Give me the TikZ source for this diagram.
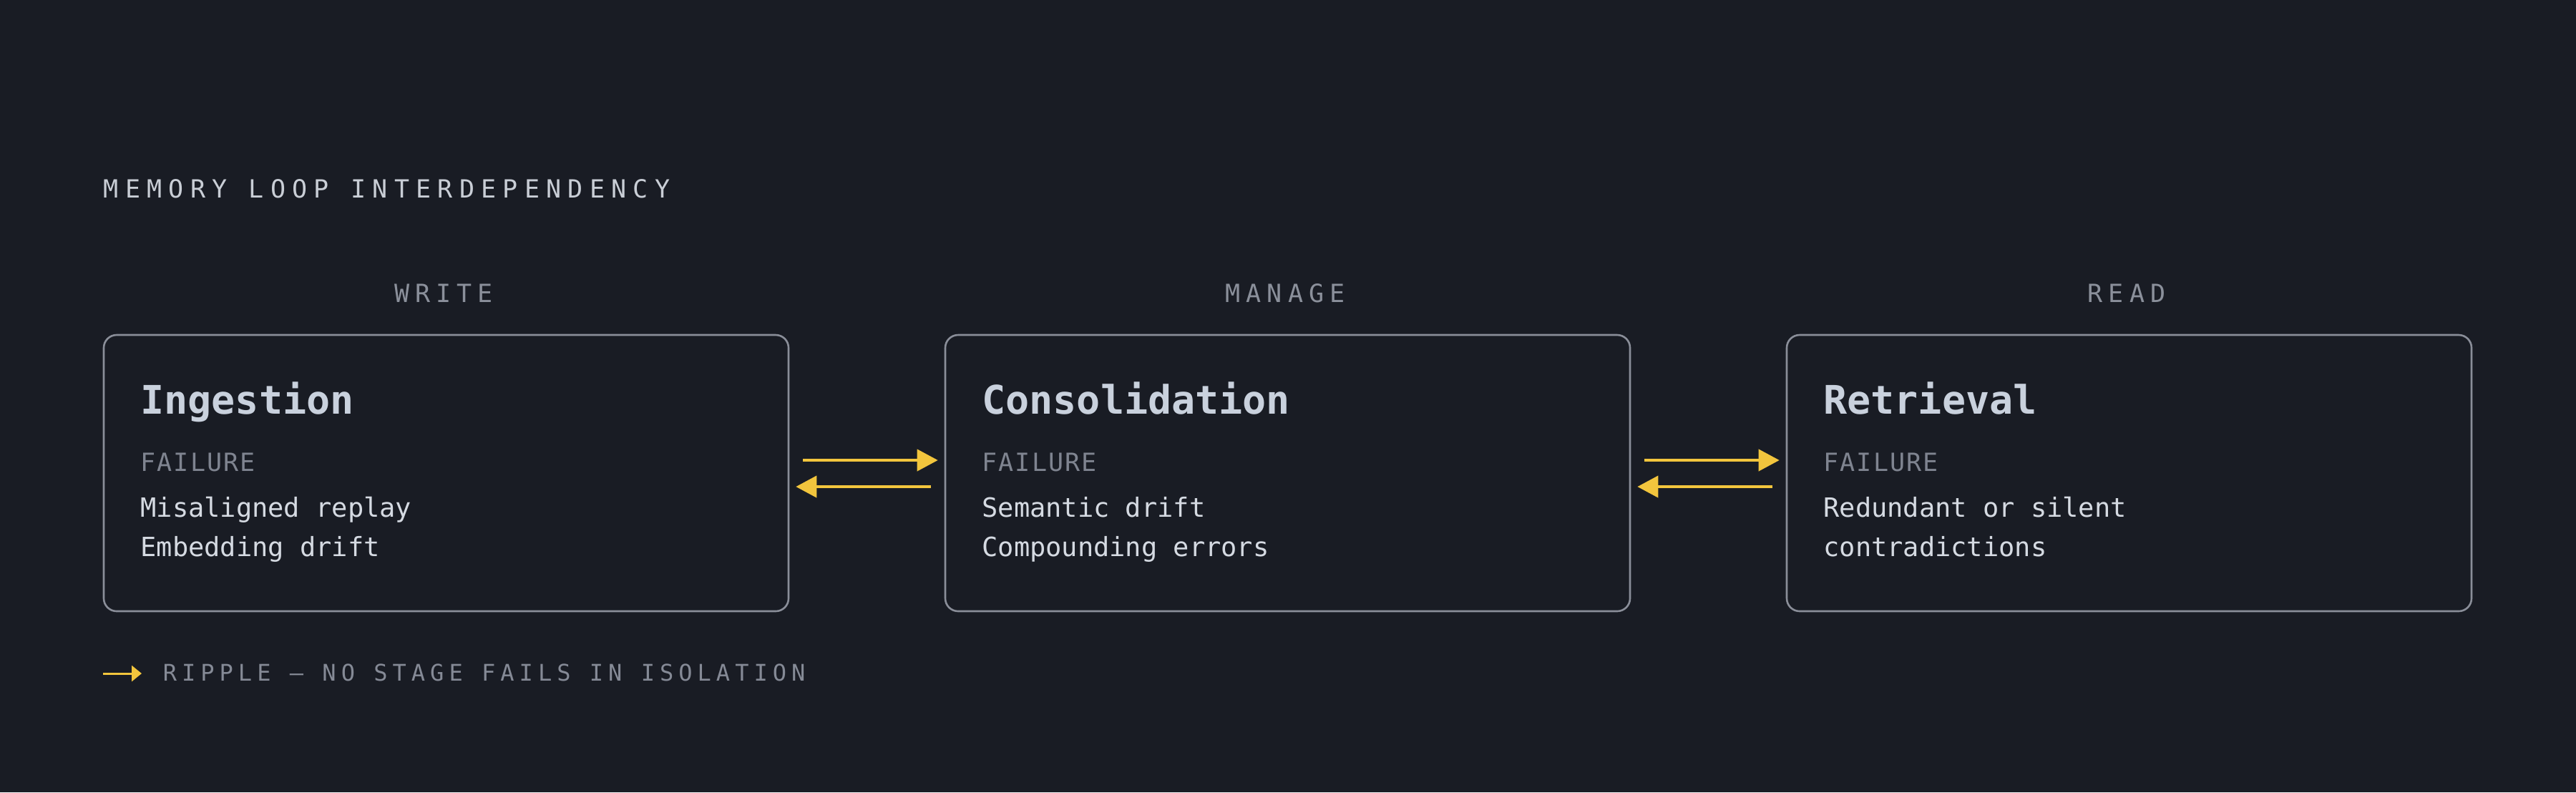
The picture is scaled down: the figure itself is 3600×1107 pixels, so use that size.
\documentclass[tikz,border=0pt]{standalone}
\usepackage{fontspec}
\usetikzlibrary{arrows.meta}
\newfontfamily\trackwide{DejaVu Sans Mono}[LetterSpace=26.5]
\newfontfamily\trackstage{DejaVu Sans Mono}[LetterSpace=23]
\newfontfamily\tracklegend{DejaVu Sans Mono}[LetterSpace=22]
\newfontfamily\tracksmall{DejaVu Sans Mono}[LetterSpace=6]
\newfontfamily\monoplain{DejaVu Sans Mono}
\definecolor{bgc}{HTML}{191C24}
\definecolor{borderc}{HTML}{8A8E99}
\definecolor{headc}{HTML}{C9CED6}
\definecolor{stagec}{HTML}{8B909B}
\definecolor{titlec}{HTML}{C9D1DD}
\definecolor{failc}{HTML}{7F8490}
\definecolor{bodyc}{HTML}{D5DAE2}
\definecolor{legendc}{HTML}{858A96}
\definecolor{yel}{HTML}{F2C53D}
\tikzset{
  stagebox/.style={draw=borderc, line width=0.65pt, rounded corners=4.5pt,
    minimum width=239.25pt, minimum height=96.5pt, inner sep=0pt, fill=bgc},
  headtxt/.style={anchor=base west, inner sep=0pt, text=headc,
    font=\trackwide\fontsize{8.75pt}{10pt}\selectfont},
  stagetxt/.style={anchor=base, inner sep=0pt, text=stagec,
    font=\trackstage\fontsize{8.75pt}{10pt}\selectfont},
  boxtitle/.style={anchor=base west, inner sep=0pt, text=titlec,
    font=\monoplain\bfseries\fontsize{13.75pt}{15pt}\selectfont},
  failtxt/.style={anchor=base west, inner sep=0pt, text=failc,
    font=\tracksmall\fontsize{8.75pt}{10pt}\selectfont},
  bodytxt/.style={anchor=base west, inner sep=0pt, text=bodyc,
    font=\monoplain\fontsize{9.25pt}{10pt}\selectfont},
  legendtxt/.style={anchor=base west, inner sep=0pt, text=legendc,
    font=\tracklegend\fontsize{8pt}{10pt}\selectfont},
  ripple/.style={draw=yel, line width=1pt, -{Triangle[length=7.25pt,width=7.5pt]}},
  ripplesmall/.style={draw=yel, line width=0.75pt, -{Triangle[length=3.5pt,width=5.5pt]}}
}
\begin{document}
\begin{tikzpicture}[x=0.25pt, y=-0.25pt]
\fill[bgc] (0,0) rectangle (3600,1107);
\useasboundingbox (0,0) rectangle (3600,1107);

\node[headtxt] (head) at (144,276) {MEMORY LOOP INTERDEPENDENCY};

\node[stagebox] (b1) at (623.5,661) {};
\node[stagebox] (b2) at (1799.5,661) {};
\node[stagebox] (b3) at (2975.5,661) {};

\node[stagetxt] (s1) at (620,422) {WRITE};
\node[stagetxt] (s2) at (1796,422) {MANAGE};
\node[stagetxt] (s3) at (2972,422) {READ};

\node[boxtitle] (t1) at ([shift={(52,112)}]b1.north west) {Ingestion};
\node[failtxt]  (f1) at ([shift={(52,192)}]b1.north west) {FAILURE};
\node[bodytxt]  (l1a) at ([shift={(52,256)}]b1.north west) {Misaligned replay};
\node[bodytxt]  (l1b) at ([shift={(52,311)}]b1.north west) {Embedding drift};

\node[boxtitle] (t2) at ([shift={(52,112)}]b2.north west) {Consolidation};
\node[failtxt]  (f2) at ([shift={(52,192)}]b2.north west) {FAILURE};
\node[bodytxt]  (l2a) at ([shift={(52,256)}]b2.north west) {Semantic drift};
\node[bodytxt]  (l2b) at ([shift={(52,311)}]b2.north west) {Compounding errors};

\node[boxtitle] (t3) at ([shift={(52,112)}]b3.north west) {Retrieval};
\node[failtxt]  (f3) at ([shift={(52,192)}]b3.north west) {FAILURE};
\node[bodytxt]  (l3a) at ([shift={(52,256)}]b3.north west) {Redundant or silent};
\node[bodytxt]  (l3b) at ([shift={(52,311)}]b3.north west) {contradictions};

\draw[ripple] ([shift={(19,-18)}]b1.east) -- ([shift={(-9,-18)}]b2.west);
\draw[ripple] ([shift={(-19,19)}]b2.west) -- ([shift={(9,19)}]b1.east);
\draw[ripple] ([shift={(19,-18)}]b2.east) -- ([shift={(-9,-18)}]b3.west);
\draw[ripple] ([shift={(-19,19)}]b3.west) -- ([shift={(9,19)}]b2.east);

\coordinate (la) at (144,941);
\coordinate (lb) at (198,941);
\draw[ripplesmall] (la) -- (lb);
\node[legendtxt] (leg) at (227,951) {RIPPLE — NO STAGE FAILS IN ISOLATION};
\end{tikzpicture}
\end{document}
